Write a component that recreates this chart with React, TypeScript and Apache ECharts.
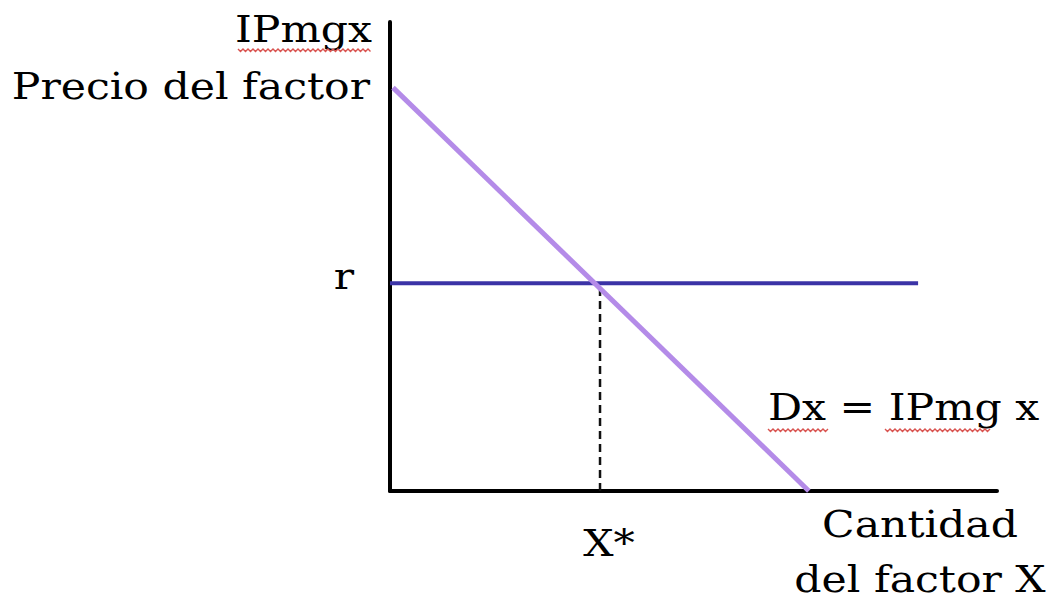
import { useEffect, useRef } from "react";
import * as echarts from "echarts";

// Data (axis units 0..100)
const demandPoints: [number, number][] = [[0.5, 86], [69, 0]];
const rateLevel = 44.3;
const rateSpan: [number, number] = [0, 87];
const xStar = 34.6;

const labels = {
  yTop: "IPmgx",
  yName: "Precio del factor",
  rate: "r",
  xStar: "X*",
  demand: "Dx = IPmg x",
  xName1: "Cantidad",
  xName2: "del factor X",
};

const FONT = "DejaVu Serif";
const FS = 37;
const SX = 1.15;

function wavy(x0: number, x1: number, y: number) {
  const pts: number[][] = [];
  let up = true;
  for (let x = x0; x <= x1; x += 2.5) {
    pts.push([x, up ? y : y + 2.5]);
    up = !up;
  }
  return {
    type: "polyline",
    shape: { points: pts },
    style: { stroke: "#d9534f", lineWidth: 1.4, fill: null },
    silent: true,
  };
}

function txt(text: string, x: number, y: number, align: string, fontSize = FS, scaleX = SX) {
  return {
    type: "text",
    x,
    y,
    scaleX,
    style: {
      text,
      fontFamily: FONT,
      fontSize,
      fill: "#000",
      textAlign: align,
      textVerticalAlign: "middle",
    },
    silent: true,
  };
}

export default function App() {
  const ref = useRef<HTMLDivElement>(null);
  useEffect(() => {
    document.body.style.margin = "0";
    const chart = echarts.init(ref.current!, undefined, { renderer: "svg" });
    const axisCommon = {
      type: "value",
      min: 0,
      max: 100,
      axisLine: { show: true, lineStyle: { color: "#000", width: 4 } },
      axisTick: { show: false },
      axisLabel: { show: false },
      splitLine: { show: false },
    };
    chart.setOption({
      animation: false,
      backgroundColor: "#fff",
      grid: { left: 390, right: 58, top: 22, bottom: 112 },
      xAxis: axisCommon,
      yAxis: axisCommon,
      series: [
        {
          type: "line",
          data: [[xStar, 0], [xStar, rateLevel]],
          symbol: "none",
          lineStyle: { color: "#111", width: 2.5, type: [8, 5] },
        },
        {
          type: "line",
          data: [[rateSpan[0], rateLevel], [rateSpan[1], rateLevel]],
          symbol: "none",
          lineStyle: { color: "#3b33a6", width: 4 },
        },
        {
          type: "line",
          data: demandPoints,
          symbol: "none",
          lineStyle: { color: "#b48be8", width: 5 },
        },
      ],
      graphic: [
        txt(labels.yTop, 372, 29, "right"),
        wavy(238, 372, 49),
        txt(labels.yName, 370, 86, "right"),
        txt(labels.rate, 344, 276, "center"),
        txt(labels.xStar, 609, 543, "center"),
        txt(labels.demand, 768, 407, "left"),
        wavy(768, 830, 429),
        wavy(885, 992, 429),
        txt(labels.xName1, 920, 524, "center"),
        txt(labels.xName2, 920, 579, "center"),
      ],
    });
    return () => chart.dispose();
  }, []);
  return <div ref={ref} style={{ width: 1055, height: 603 }} />;
}
